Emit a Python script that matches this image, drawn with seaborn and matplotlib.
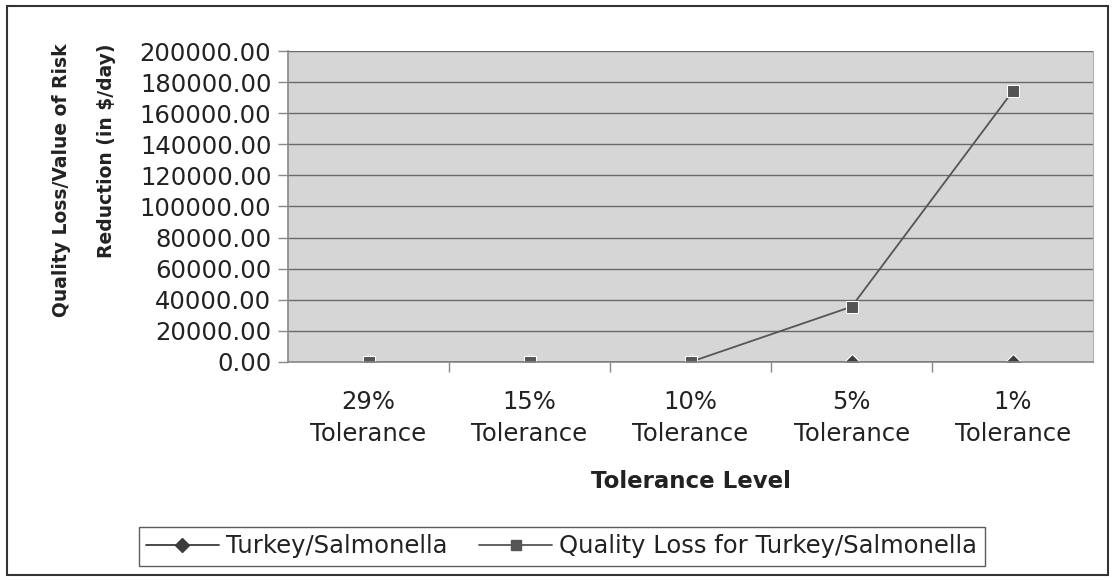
import matplotlib
matplotlib.use("Agg")
import matplotlib.pyplot as plt
import seaborn as sns
import pandas as pd
import numpy as np
from matplotlib.ticker import FixedLocator, FuncFormatter

# Tolerance levels and daily values (in $/day)
categories = ["29%\nTolerance", "15%\nTolerance", "10%\nTolerance", "5%\nTolerance", "1%\nTolerance"]
turkey_salmonella = [0.0, 0.0, 0.0, 0.0, 0.0]
quality_loss = [0.0, 0.0, 0.0, 35500.0, 174000.0]
series_names = ["Turkey/Salmonella", "Quality Loss for Turkey/Salmonella"]

df = pd.DataFrame({
    "level": categories * 2,
    "value": turkey_salmonella + quality_loss,
    "series": [series_names[0]] * len(categories) + [series_names[1]] * len(categories),
})

sns.set_style("white")
plt.rcParams["font.family"] = ["DejaVu Sans"]

fig = plt.figure(figsize=(11.12, 5.8), dpi=100)
ax = fig.add_axes([0.259, 0.376, 0.724, 0.536])
ax.set_facecolor("#d6d6d6")

text_color = "#222222"
line_color = "#3c3c3c"
sns.lineplot(
    data=df, x="level", y="value", hue="series", style="series",
    markers={series_names[0]: "D", series_names[1]: "s"},
    dashes=False, palette={series_names[0]: line_color, series_names[1]: "#555555"},
    markersize=8, linewidth=1.3, sort=False, ax=ax, legend=False,
)

ax.set_xlim(-0.5, len(categories) - 0.5)
ax.set_ylim(0, 200000)
ax.yaxis.set_major_locator(FixedLocator(np.arange(0, 200001, 20000)))
ax.yaxis.set_major_formatter(FuncFormatter(lambda v, p: f"{v:.2f}"))
ax.set_xticks(range(len(categories)))
ax.set_xticklabels(categories, linespacing=1.45)
ax.xaxis.set_minor_locator(FixedLocator(np.arange(0.5, len(categories) - 0.5, 1.0)))

ax.grid(axis="y", color="#6a6a6a", linewidth=1.0)
ax.set_axisbelow(True)
ax.spines["top"].set_visible(False)
ax.spines["right"].set_color("#b0b0b0")
for side in ["left", "bottom"]:
    ax.spines[side].set_color("#888888")
    ax.spines[side].set_linewidth(1.2)

ax.tick_params(axis="y", which="major", length=7, width=1, color="#888888",
               labelsize=17.5, labelcolor=text_color, pad=5, left=True)
ax.tick_params(axis="x", which="major", length=0, labelsize=17.5,
               labelcolor=text_color, pad=20)
ax.tick_params(axis="x", which="minor", length=7, width=1, color="#888888",
               bottom=True, direction="out")

ax.set_xlabel("Tolerance Level", fontsize=16.5, fontweight="bold", labelpad=17, color=text_color)
ax.set_ylabel("Quality Loss/Value of Risk\nReduction (in $/day)", fontsize=13.5,
              fontweight="bold", color=text_color, linespacing=2.7,
              multialignment="right")
ax.yaxis.set_label_coords(-0.214, 0.585)

handles = [
    plt.Line2D([], [], color=line_color, marker="D", markersize=7, linewidth=1.3),
    plt.Line2D([], [], color="#555555", marker="s", markersize=7, linewidth=1.3),
]
leg = fig.legend(handles, series_names, loc="center", bbox_to_anchor=(0.505, 0.058),
                 ncol=2, frameon=True, fancybox=False,
                 prop={"family": "DejaVu Sans", "size": 17.5},
                 handlelength=3.0, handletextpad=0.3, columnspacing=1.3,
                 borderpad=0.3, borderaxespad=0)
leg.get_frame().set_edgecolor("#333333")
leg.get_frame().set_linewidth(1.0)
for t in leg.get_texts():
    t.set_color(text_color)

# Outer chart border
fig.patches.append(plt.Rectangle((0.006, 0.008), 0.99, 0.982, transform=fig.transFigure,
                                 fill=False, edgecolor="#333333", linewidth=1.5))

fig.savefig("out.png", dpi=100)
